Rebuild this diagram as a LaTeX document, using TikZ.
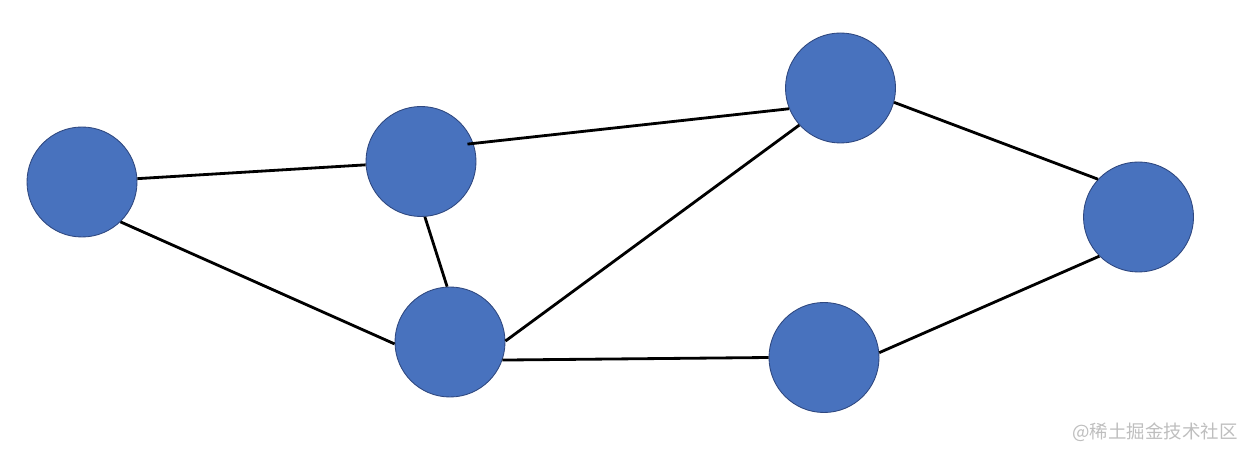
\documentclass[tikz,border=0pt]{standalone}
\usepackage{fontspec}
\newfontfamily\cjk{Noto Sans CJK SC}
\usepackage{tikz}
\usetikzlibrary{positioning}
\definecolor{vblue}{RGB}{72, 114, 190}
\definecolor{vborder}{RGB}{47, 72, 128}
\definecolor{markgray}{RGB}{190, 190, 190}

\begin{document}
\begin{tikzpicture}[
			vertex/.style={circle, draw=vborder, line width=0.5pt, fill=vblue,
				minimum size=2.2cm, inner sep=0pt},
			edge/.style={line width=1.6pt, black}
			]
			\useasboundingbox (0,0) rectangle (24.8,8.98);
			\node[vertex] (n1) at (1.64, 5.34) {};
			\node[vertex] (n2) at (8.42, 5.75) {};
			\node[vertex] (n3) at (16.81,7.22) {};
			\node[vertex] (n4) at (22.77,4.64) {};
			\node[vertex] (n5) at (9.00, 2.14) {};
			\node[vertex] (n6) at (16.48,1.83) {};
			
			\draw[edge] (n1)     -- (n2);
			\draw[edge] (n1.-46) -- (n5.182);
			\draw[edge] (n2.-86) -- (n5.93);
			\draw[edge, shorten <=-0.12cm] (n2.19) -- (n3.202);
			\draw[edge] (n5.1)   -- (n3.222);
			\draw[edge] (n5.-19) -- (n6.180);
			\draw[edge] (n3.-15) -- (n4.137);
			\draw[edge] (n6.5)   -- (n4.225);
			
			\node[text=markgray, font=\cjk\fontsize{10.5pt}{12pt}\selectfont, inner sep=0pt] (mark) at (23.1,0.34) {@稀土掘金技术社区};
		\end{tikzpicture}
\end{document}
